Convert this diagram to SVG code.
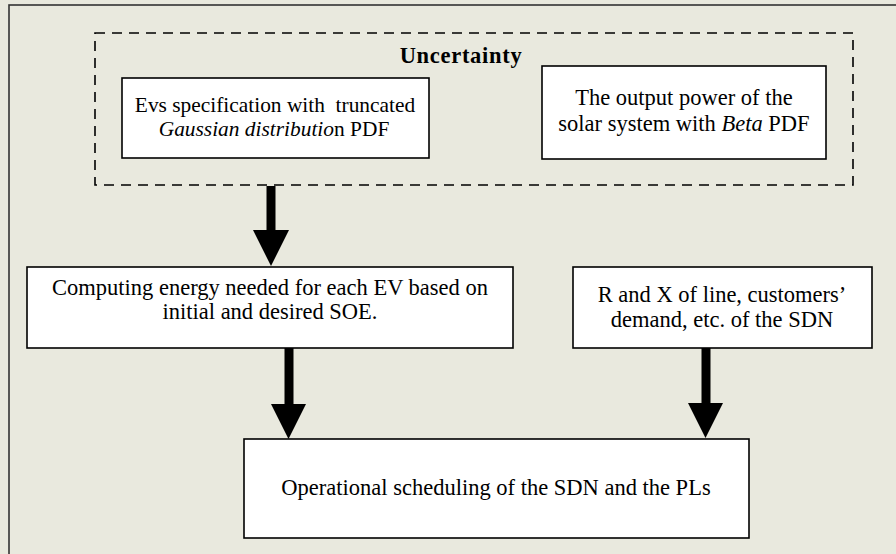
<svg xmlns="http://www.w3.org/2000/svg" width="896" height="554" viewBox="0 0 896 554">
<style>
.box{fill:#fff;stroke:#000;stroke-width:1.6}
.t{font-family:"Liberation Serif","Times New Roman",serif;font-size:22.5px;fill:#000;text-anchor:middle}
.s{font-size:21.4px}
.i{font-style:italic}
.shaft{stroke:#000;stroke-width:9;fill:none}
.head{fill:#000}
</style>
<rect x="0" y="0" width="896" height="554" fill="#e9e9de"/>
<rect id="frame" x="9" y="5" width="900" height="570" fill="#e9e9de" stroke="#333" stroke-width="1.6"/>
<g id="uncertainty">
<rect x="95" y="33" width="758" height="152" fill="none" stroke="#000" stroke-width="1.6" stroke-dasharray="10,7"/>
<text class="t" x="461" y="63" font-size="21px" font-weight="bold" letter-spacing="0.7">Uncertainty</text>
</g>
<g id="evs">
<rect class="box" x="122" y="78" width="307" height="80"/>
<text class="t s" x="275" y="112" xml:space="preserve">Evs specification with  truncated</text>
<text class="t s" x="274" y="136"><tspan class="i">Gaussian distributio</tspan>n PDF</text>
</g>
<g id="solar">
<rect class="box" x="542" y="66" width="284" height="93"/>
<text class="t" x="684" y="105">The output power of the</text>
<text class="t" x="684" y="131">solar system with <tspan class="i">Beta</tspan> PDF</text>
</g>
<g id="energy">
<rect class="box" x="27" y="267" width="486" height="81"/>
<text class="t" x="270" y="295">Computing energy needed for each EV based on</text>
<text class="t" x="270" y="319">initial and desired SOE.</text>
</g>
<g id="sdn">
<rect class="box" x="573" y="267" width="299" height="81"/>
<text class="t" x="722" y="302">R and X of line, customers’</text>
<text class="t" x="722" y="327">demand, etc. of the SDN</text>
</g>
<g id="schedule">
<rect class="box" x="244" y="439" width="505" height="99"/>
<text class="t" x="496" y="495">Operational scheduling of the SDN and the PLs</text>
</g>
<g id="connectors">
<line class="shaft" x1="271" y1="186" x2="271" y2="232"/>
<polygon class="head" points="253,230 289,230 271,266"/>
<line class="shaft" x1="289" y1="348" x2="289" y2="406"/>
<polygon class="head" points="271,404 306,404 288.5,439"/>
<line class="shaft" x1="706" y1="348" x2="706" y2="405"/>
<polygon class="head" points="688,403 723,403 705.5,438"/>
</g>
</svg>
